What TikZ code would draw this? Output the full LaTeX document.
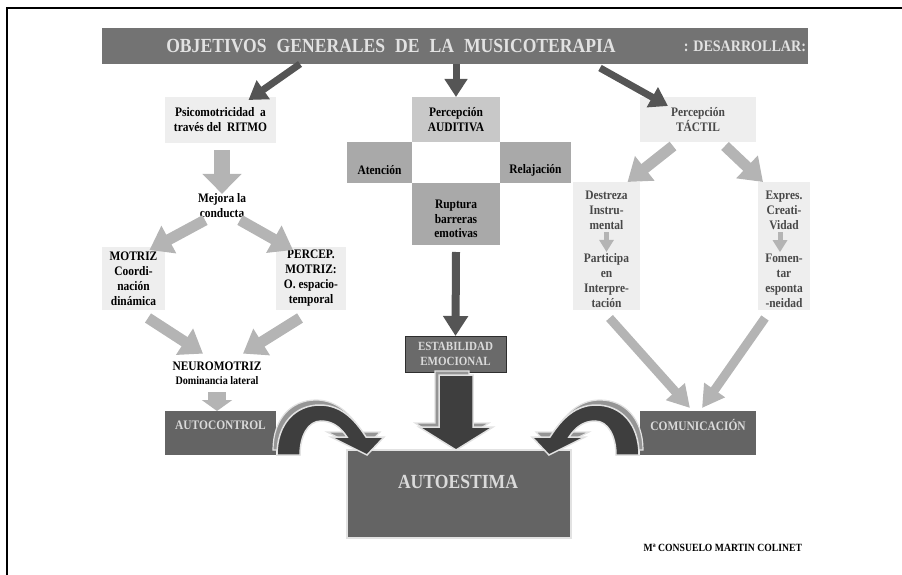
\documentclass[tikz,border=0pt]{standalone}
\usepackage{fontspec}
\setmainfont{Liberation Serif}[FakeStretch=0.88]
\usetikzlibrary{arrows.meta}

\definecolor{barGray}{HTML}{737373}
\definecolor{titleText}{HTML}{E2E2E2}
\definecolor{paleBox}{HTML}{EEEEEE}
\definecolor{midBox}{HTML}{C8C8C8}
\definecolor{greyBox}{HTML}{A9A9A9}
\definecolor{darkBox}{HTML}{646464}
\definecolor{estabGray}{HTML}{6A6A6A}
\definecolor{estabEdge}{HTML}{2E2E2E}
\definecolor{darkArrow}{HTML}{555555}
\definecolor{lightArrow}{HTML}{B4B4B4}
\definecolor{softText}{HTML}{484848}
\definecolor{lightText}{HTML}{DADADA}
\definecolor{solidDark}{HTML}{3E3E3E}
\definecolor{rimGray}{HTML}{959595}
\definecolor{rimLight}{HTML}{E2E2E2}

\tikzset{
  % curved 3D arrow leaving a side box and landing on the central box
  bentarrow/.pic={
    \filldraw[fill=rimGray, draw=rimLight, line width=1.2pt, shift={(-4,-5)}]
      (277,455) .. controls (277,424) and (295,405) .. (320,405)
      .. controls (340,405) and (354,418) .. (366,437)
      -- (384,437) -- (367,455) -- (331,437) -- (347,437)
      .. controls (341,428) and (333,421) .. (321,421)
      .. controls (308,421) and (300,436) .. (300,455) -- cycle;
    \filldraw[fill=solidDark, draw=rimLight, line width=1.5pt]
      (277,455) .. controls (277,424) and (295,405) .. (320,405)
      .. controls (340,405) and (354,418) .. (366,437)
      -- (384,437) -- (367,455) -- (331,437) -- (347,437)
      .. controls (341,428) and (333,421) .. (321,421)
      .. controls (308,421) and (300,436) .. (300,455) -- cycle;
  },
  % broad 3D arrow pointing down
  blockdown/.pic={
    \filldraw[fill=rimGray, draw=rimLight, line width=1.2pt, shift={(-4,-4)}]
      (439,375) -- (473,375) -- (473,427) -- (493,427) -- (456,450)
      -- (419,427) -- (439,427) -- cycle;
    \filldraw[fill=solidDark, draw=rimLight, line width=1.5pt]
      (439,375) -- (473,375) -- (473,427) -- (493,427) -- (456,450)
      -- (419,427) -- (439,427) -- cycle;
  }
}

\begin{document}
\begin{tikzpicture}[x=1pt, y=-1pt,
  every node/.style={inner sep=0pt, outer sep=0pt, align=center},
  lbl/.style={font=\fontsize{13}{15}\selectfont\bfseries, text=black},
  lblsoft/.style={font=\fontsize{13}{15}\selectfont\bfseries, text=softText},
  darkfont/.style={font=\fontsize{13}{15}\selectfont\bfseries, text=lightText},
  panel/.style={anchor=north west, draw=none},
  darkarr/.style={draw=darkArrow, line width=7pt, -{Triangle[width=22pt,length=18pt]}},
  darkarrlong/.style={draw=darkArrow, line width=8pt, -{Triangle[width=24pt,length=20pt]}},
  lightbig/.style={draw=lightArrow, line width=16pt, -{Triangle[width=38pt,length=20pt]}},
  lightmid/.style={draw=lightArrow, line width=11pt, -{Triangle[width=30pt,length=22pt]}},
  lightlong/.style={draw=lightArrow, line width=9pt, -{Triangle[width=24pt,length=22pt]}},
  lightstub/.style={draw=lightArrow, line width=18pt, -{Triangle[width=30pt,length=11pt]}},
  lightsmall/.style={draw=lightArrow, line width=5pt, -{Triangle[width=14pt,length=12pt]}}
]
\useasboundingbox (0,0) rectangle (902,575);
\draw[line width=1.8pt] (7,575) -- (7,8) -- (902,8);

% title bar
\node[panel, fill=barGray, minimum width=706pt, minimum height=36pt] (title) at (102,28) {};
\node[font=\fontsize{20}{22}\selectfont\bfseries, text=titleText] (titleTxt) at (391,46)
  {OBJETIVOS\hspace{0.5em}GENERALES\hspace{0.5em}DE\hspace{0.5em}LA\hspace{0.5em}MUSICOTERAPIA};
\node[font=\fontsize{16}{18}\selectfont\bfseries, text=titleText, anchor=east] (titleTail) at (806,46)
  {: DESARROLLAR:};

% left branch: rhythm
\node[panel, fill=paleBox, minimum width=111pt, minimum height=46pt, lbl] (psico) at (165,97)
  {Psicomotricidad\ \ a\\través del\ \ RITMO};
\node[lbl] (mejora) at (222,206) {Mejora la\\conducta};
\node[panel, fill=paleBox, minimum width=63pt, minimum height=63pt, lbl] (motriz) at (102,247)
  {MOTRIZ\\Coordi-\\nación\\dinámica};
\node[panel, fill=paleBox, minimum width=70pt, minimum height=63pt, lbl] (percep) at (276,247)
  {PERCEP.\\MOTRIZ:\\O. espacio-\\temporal};
\node[lbl] (neuro) at (217,366) {NEUROMOTRIZ};
\node[font=\fontsize{11.5}{13}\selectfont\bfseries] (domin) at (217,381) {Dominancia lateral};
\node[panel, fill=darkBox, minimum width=111pt, minimum height=44pt] (autoctl) at (165,411) {};
\node[darkfont] (autoctlTxt) at (220.5,425) {AUTOCONTROL};

% central branch: hearing
\node[panel, fill=midBox, minimum width=88pt, minimum height=45pt, lbl] (audit) at (412,97)
  {Percepción\\AUDITIVA};
\node[panel, fill=greyBox, minimum width=65pt, minimum height=41pt] (atenc) at (347,142) {};
\node[lbl] (atencTxt) at (379.5,170) {Atención};
\node[panel, fill=greyBox, minimum width=71pt, minimum height=41pt] (relaj) at (500,142) {};
\node[lbl] (relajTxt) at (535.5,170) {Relajación};
\node[panel, fill=greyBox, minimum width=88pt, minimum height=62pt] (rupt) at (412,183) {};
\node[font=\fontsize{13}{14.5}\selectfont\bfseries] (ruptTxt) at (456,219) {Ruptura\\barreras\\emotivas};
\node[panel, fill=estabGray, draw=estabEdge, line width=1pt, minimum width=101pt, minimum height=36pt,
  font=\fontsize{12.5}{15}\selectfont\bfseries, text=lightText] (estab) at (405,336)
  {ESTABILIDAD\\EMOCIONAL};

% right branch: touch
\node[panel, fill=paleBox, minimum width=116pt, minimum height=45pt, lblsoft] (tactil) at (640,97)
  {Percepción\\TÁCTIL};
\node[panel, fill=paleBox, minimum width=67pt, minimum height=128pt] (destr) at (573,182) {};
\node[lblsoft] (destrTop) at (606.5,210) {Destreza\\Instru-\\mental};
\node[lblsoft] (destrBot) at (606.5,281) {Participa\\en\\Interpre-\\tación};
\node[panel, fill=paleBox, minimum width=52pt, minimum height=128pt] (expr) at (758,182) {};
\node[lblsoft] (exprTop) at (784,210) {Expres.\\Creati-\\Vidad};
\node[lblsoft] (exprBot) at (784,281) {Fomen-\\tar\\esponta\\-neidad};
\node[panel, fill=darkBox, minimum width=116pt, minimum height=44pt] (comun) at (640,411) {};
\node[darkfont] (comunTxt) at (698,425) {COMUNICACIÓN};

% goal
\node[panel, fill=darkBox, draw=rimLight, line width=1.5pt, minimum width=224pt, minimum height=88pt] (selfest) at (347,450) {};
\node[font=\fontsize{20}{22}\selectfont\bfseries, text=lightText] (selfestTxt) at (458,482) {AUTOESTIMA};
\node[font=\fontsize{11}{13}\selectfont\bfseries, anchor=east] (credit) at (802,548) {Mª CONSUELO MARTIN COLINET};

% arrows out of the title bar
\draw[darkarr] ([xshift=-155pt]title.south) -- ([xshift=28pt,yshift=-3pt]psico.north);
\draw[darkarr] ([xshift=1pt]title.south) -- (audit.north);
\draw[darkarr] ([xshift=145pt,yshift=-4pt]title.south) -- ([xshift=-30pt,yshift=-9pt]tactil.north);

% left branch arrows
\draw[lightbig] ([xshift=1.5pt,yshift=-7pt]psico.south) -- (mejora.north);
\draw[lightmid] ([xshift=-17pt,yshift=-2pt]mejora.south) -- ([xshift=16pt,yshift=-3pt]motriz.north);
\draw[lightmid] ([xshift=18pt,yshift=-2pt]mejora.south) -- ([xshift=-18pt,yshift=-3pt]percep.north);
\draw[lightmid] ([xshift=14.5pt,yshift=-8pt]motriz.south) -- ([xshift=-14pt,yshift=8pt]neuro.north);
\draw[lightmid] ([xshift=-11pt,yshift=-8pt]percep.south) -- ([xshift=26pt,yshift=8pt]neuro.north);
\draw[lightstub] ([yshift=-7pt]domin.south) -- ([xshift=-3.5pt]autoctl.north);

% central arrows
\draw[darkarrlong] ([yshift=-7pt]rupt.south) -- (estab.north);
\pic at (0,0) {blockdown};

% right branch arrows
\draw[lightmid] ([xshift=-25pt,yshift=-4pt]tactil.south) -- ([xshift=21pt]destr.north);
\draw[lightmid] ([xshift=27pt,yshift=-4pt]tactil.south) -- ([xshift=-21pt]expr.north);
\draw[lightsmall] ([yshift=-3pt]destrTop.south) -- ([yshift=2pt]destrBot.north);
\draw[lightsmall] ([xshift=-4pt,yshift=-3pt]exprTop.south) -- ([xshift=-4pt,yshift=2pt]exprBot.north);
\draw[lightlong] ([xshift=3pt,yshift=-8pt]destr.south) -- ([xshift=-8pt,yshift=3pt]comun.north);
\draw[lightlong] ([xshift=-19pt,yshift=-8pt]expr.south) -- ([xshift=4pt,yshift=3pt]comun.north);

% curved arrows into the goal
\pic at (0,0) {bentarrow};
\pic[xscale=-1] at (916,0) {bentarrow};
\end{tikzpicture}
\end{document}
